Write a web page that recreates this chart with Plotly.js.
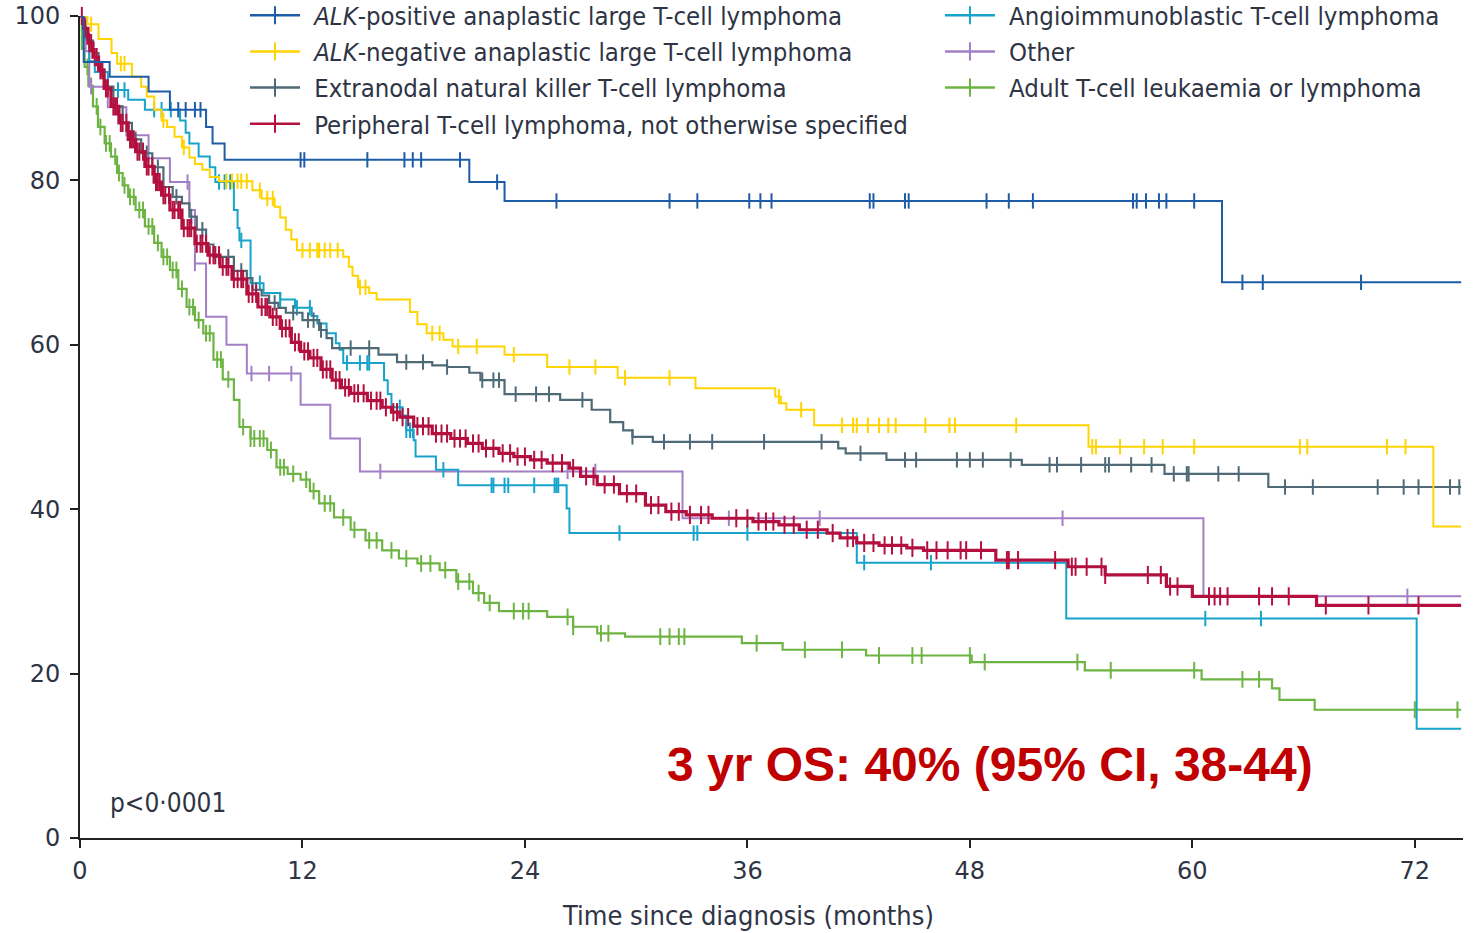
<!DOCTYPE html>
<html><head><meta charset="utf-8">
<script src="https://cdn.plot.ly/plotly-3.0.1.min.js"></script>
<style>html,body{margin:0;padding:0;background:#fff;} #chart{width:1473px;height:933px;}</style>
</head><body><div id="chart"></div>
<script>
// ---- axis ticks ----
const monthTicks = [0, 12, 24, 36, 48, 60, 72];
const pctTicks = [0, 20, 40, 60, 80, 100];

// ---- series names ----
const gap = '\u2009\u2009';
const nameAlkPos = gap + '<i>ALK</i>-positive anaplastic large T-cell lymphoma';
const nameAlkNeg = gap + '<i>ALK</i>-negative anaplastic large T-cell lymphoma';
const nameEnk = gap + 'Extranodal natural killer T-cell lymphoma';
const namePtcl = gap + 'Peripheral T-cell lymphoma, not otherwise specified';
const nameAitl = gap + 'Angioimmunoblastic T-cell lymphoma';
const nameOther = gap + 'Other';
const nameAtll = gap + 'Adult T-cell leukaemia or lymphoma';

// ---- step times (months) / survival (%) / censor times ----
const alkPosT = [0, 0.2, 1.6, 3.7, 4.85, 6.8, 7.15, 7.8, 21.0, 22.9, 61.6, 74.5];
const alkPosS = [100, 94.4, 92.6, 90.8, 88.6, 86.5, 84.5, 82.5, 79.8, 77.5, 67.6, 67.6];
const alkPosC = [5.3, 5.7, 6.2, 6.5, 11.9, 12.1, 15.5, 17.5, 17.95, 18.4, 20.5, 22.5, 25.7, 31.8, 33.3, 36.1, 36.7, 37.3, 42.6, 42.8, 44.5, 44.7, 48.9, 50.1, 51.4, 56.8, 57.0, 57.5, 58.2, 58.6, 60.1, 62.7, 63.8, 69.1];

const alkNegT = [0, 0.4, 1.0, 1.7, 2.0, 2.8, 3.3, 3.6, 4.0, 4.4, 4.7, 5.1, 5.5, 5.9, 6.2, 6.6, 7.0, 7.5, 9.3, 9.8, 10.5, 10.8, 11.1, 11.4, 11.7, 14.2, 14.5, 14.7, 15.0, 15.6, 16.0, 17.8, 18.2, 18.7, 19.6, 20.1, 22.9, 25.2, 29.0, 33.2, 37.5, 37.8, 38.1, 39.6, 54.4, 73.0, 74.5];
const alkNegS = [100, 99.0, 97.2, 95.5, 94.2, 92.6, 91.4, 90.2, 88.6, 87.3, 86.5, 85.3, 84.0, 82.8, 82.0, 81.3, 80.4, 79.9, 78.8, 77.8, 76.8, 75.5, 74.0, 72.8, 71.5, 70.7, 69.5, 68.4, 67.0, 66.3, 65.5, 64.0, 62.5, 61.4, 60.6, 59.8, 58.8, 57.3, 56.0, 54.7, 53.7, 52.9, 52.1, 50.2, 47.6, 37.9, 37.9];
const alkNegC = [0.6, 2.2, 2.4, 4.5, 5.6, 7.9, 8.2, 8.5, 8.7, 9.0, 9.7, 10.1, 10.4, 12.0, 12.4, 12.8, 12.9, 13.2, 13.5, 13.9, 15.1, 15.4, 19.0, 19.4, 20.4, 21.4, 23.4, 26.4, 27.8, 29.4, 31.8, 37.7, 38.9, 41.1, 41.7, 41.9, 42.5, 43.1, 43.6, 44.0, 45.6, 46.9, 47.2, 50.5, 54.6, 54.8, 56.1, 57.4, 58.4, 60.1, 65.8, 66.2, 70.5, 71.5];

const enkT = [0, 0.2, 0.4, 0.7, 1.0, 1.3, 1.8, 2.3, 2.8, 3.3, 3.9, 4.5, 5.0, 5.5, 5.9, 6.3, 6.8, 7.2, 8.3, 9.0, 9.3, 9.8, 10.2, 10.7, 11.1, 12.0, 12.9, 13.3, 13.6, 16.1, 17.1, 19.0, 19.8, 21.0, 21.6, 22.9, 25.9, 27.6, 28.6, 29.3, 29.8, 30.9, 40.9, 41.3, 43.5, 50.8, 58.5, 64.1, 74.5];
const enkS = [100, 98.5, 97, 95.5, 93.5, 91.4, 89, 87, 85, 83.3, 81.6, 79.2, 78.0, 77.2, 75.6, 74, 72.2, 70.7, 69, 68.1, 66.7, 66, 65.1, 64.5, 63.9, 63.0, 61.8, 60.8, 59.6, 58.8, 57.9, 57.5, 57.3, 56.6, 55.7, 54.0, 53.3, 52.1, 50.6, 49.6, 48.8, 48.2, 47.4, 46.8, 46.0, 45.4, 44.3, 42.7, 42.7];
const enkC = [0.5, 1.2, 3.0, 3.6, 4.2, 5.2, 6.0, 6.6, 7.5, 8.0, 8.7, 9.5, 10.5, 11.5, 12.3, 12.6, 13.0, 14.6, 15.6, 17.6, 18.5, 19.8, 21.7, 22.3, 22.6, 23.5, 24.6, 25.3, 27.1, 29.8, 31.5, 32.9, 34.1, 36.9, 40.0, 42.1, 44.5, 45.1, 47.3, 48.0, 48.7, 50.2, 52.3, 52.7, 54.0, 55.3, 55.5, 56.7, 57.8, 59.0, 59.7, 59.8, 61.4, 62.5, 65.0, 66.5, 70.0, 71.4, 72.2, 73.9, 74.4];

const ptclT = [0, 0.2, 0.43, 0.7, 1.0, 1.3, 1.67, 2.1, 2.6, 3.0, 3.5, 4.0, 4.4, 4.85, 5.5, 6.2, 6.9, 7.55, 8.2, 9.0, 9.6, 10.24, 10.8, 11.4, 11.9, 12.4, 13.0, 13.6, 14.1, 14.6, 15.5, 16.3, 16.8, 17.25, 18.0, 19.0, 20.0, 20.9, 21.7, 22.6, 23.4, 24.3, 25.2, 26.4, 27.0, 27.9, 29.1, 30.5, 31.6, 32.7, 34.1, 36.3, 37.7, 38.8, 40.3, 41.0, 41.9, 43.1, 44.6, 45.5, 49.4, 53.3, 55.3, 58.6, 60.0, 66.7, 74.5];
const ptclS = [100, 98.5, 96.7, 95.0, 93.4, 91.2, 89.0, 87.0, 85.0, 83.5, 81.7, 79.8, 78.2, 76.4, 74.2, 72.3, 70.9, 69.5, 68.0, 66.2, 64.6, 63.4, 62.0, 60.3, 59.2, 58.4, 57.0, 55.7, 54.8, 54.1, 53.2, 52.4, 51.8, 51.2, 50.1, 49.2, 48.6, 48.0, 47.4, 46.8, 46.4, 46.0, 45.6, 45.0, 44.0, 43.0, 41.9, 40.5, 39.7, 39.3, 38.9, 38.5, 38.1, 37.5, 37.1, 36.5, 35.9, 35.6, 35.3, 35.0, 33.8, 33.0, 32.0, 30.6, 29.4, 28.3, 28.3];
const ptclC = [0.1, 0.3, 0.5, 0.6, 0.8, 0.9, 1.1, 1.2, 1.4, 1.5, 1.8, 1.9, 2.0, 2.2, 2.3, 2.5, 2.7, 2.8, 2.9, 3.1, 3.2, 3.4, 3.6, 3.7, 3.9, 4.1, 4.2, 4.3, 4.5, 4.6, 4.8, 5.0, 5.1, 5.3, 5.4, 5.6, 5.8, 5.9, 6.0, 6.3, 6.5, 6.6, 6.8, 7.0, 7.2, 7.3, 7.5, 7.7, 7.9, 8.0, 8.3, 8.5, 8.7, 8.8, 9.1, 9.3, 9.5, 9.8, 10.0, 10.1, 10.4, 10.6, 10.9, 11.1, 11.3, 11.6, 11.8, 12.1, 12.3, 12.6, 12.8, 13.1, 13.3, 13.5, 13.8, 14.0, 14.3, 14.5, 14.8, 15.0, 15.3, 15.7, 16.0, 16.2, 16.5, 16.9, 17.1, 17.4, 17.7, 18.2, 18.5, 18.8, 19.2, 19.5, 19.8, 20.2, 20.5, 20.8, 21.2, 21.5, 21.9, 22.3, 22.8, 23.2, 23.6, 24.0, 24.5, 24.9, 25.5, 26.0, 26.6, 27.3, 27.7, 28.3, 28.8, 29.5, 30.0, 30.8, 31.2, 31.9, 32.3, 32.9, 33.5, 33.9, 35.4, 36.0, 36.6, 37.0, 37.4, 38.0, 38.5, 39.2, 39.8, 40.6, 41.4, 41.7, 42.3, 42.8, 43.4, 43.8, 44.3, 44.9, 45.7, 46.2, 46.8, 47.5, 47.8, 48.6, 50.0, 50.1, 50.6, 52.6, 53.5, 53.7, 54.3, 55.1, 55.3, 57.6, 58.3, 58.8, 59.2, 60.9, 61.2, 61.5, 61.9, 63.6, 64.3, 65.2, 67.2, 69.5, 72.2];

const aitlT = [0, 0.2, 0.5, 0.8, 1.5, 2.6, 3.5, 5.4, 5.7, 5.9, 6.4, 7.0, 7.3, 8.3, 8.5, 8.6, 9.2, 9.9, 10.8, 11.6, 12.5, 12.8, 13.3, 13.8, 14.0, 14.2, 16.4, 16.6, 16.8, 17.4, 17.6, 18.0, 18.1, 19.2, 20.4, 26.25, 26.4, 41.9, 53.2, 72.1, 74.5];
const aitlS = [100, 97.3, 94.5, 93.2, 91.0, 89.8, 88.6, 87.3, 85.8, 84.5, 82.9, 81.6, 79.8, 76.4, 74.2, 72.7, 67.5, 66.3, 65.5, 64.5, 63.5, 62.6, 61.4, 60.2, 59.4, 57.8, 55.7, 54.0, 52.4, 51.4, 49.6, 48.4, 46.4, 44.8, 42.9, 40.1, 37.1, 33.5, 26.7, 13.3, 13.3];
const aitlC = [2.05, 2.4, 4.0, 4.4, 4.9, 7.5, 7.8, 8.1, 8.7, 9.7, 10.8, 11.7, 12.4, 14.4, 15.1, 15.5, 15.6, 17.25, 17.6, 17.8, 17.95, 19.6, 22.2, 22.3, 22.9, 23.1, 24.5, 25.6, 25.7, 25.8, 29.1, 33.1, 33.3, 36.0, 42.3, 45.9, 60.7, 63.7];

const otherT = [0, 0.3, 0.5, 1.5, 2.5, 3.7, 4.85, 5.9, 6.2, 6.8, 7.9, 9.0, 11.9, 13.5, 15.1, 32.5, 60.6, 74.5];
const otherS = [100, 95.7, 91.4, 88.9, 85.5, 82.7, 79.8, 76.4, 69.9, 63.4, 60.0, 56.5, 52.7, 48.6, 44.6, 38.9, 29.4, 29.4];
const otherC = [0.6, 1.9, 5.8, 6.2, 9.25, 10.2, 11.4, 16.2, 26.3, 27.8, 35.0, 39.9, 53.0, 71.6];

const atllT = [0, 0.1, 0.25, 0.45, 0.7, 0.97, 1.33, 1.67, 2.0, 2.3, 2.6, 3.0, 3.5, 4.0, 4.4, 4.85, 5.3, 5.75, 6.2, 6.65, 7.2, 7.7, 8.3, 8.6, 9.2, 10.1, 10.6, 11.2, 11.9, 12.4, 12.9, 13.7, 14.6, 15.4, 16.3, 17.2, 18.2, 19.4, 20.3, 21.2, 21.8, 22.6, 25.2, 26.6, 27.9, 29.4, 35.7, 37.9, 42.4, 48.1, 54.2, 60.5, 64.3, 64.7, 66.6, 74.5];
const atllS = [100, 96, 93.8, 91.5, 89.0, 86.5, 84.5, 82.9, 80.9, 79.4, 78.0, 76.4, 74.4, 72.4, 70.7, 69.1, 66.8, 64.6, 63.0, 61.4, 58.2, 55.8, 53.3, 50.0, 48.6, 47.2, 45.1, 44.3, 43.6, 42.2, 40.7, 39.0, 37.5, 36.2, 35.0, 34.0, 33.4, 32.6, 31.2, 29.8, 28.6, 27.6, 26.9, 25.7, 24.9, 24.5, 23.7, 22.9, 22.2, 21.4, 20.4, 19.3, 18.2, 16.8, 15.6, 15.6];
const atllC = [0.4, 0.6, 0.9, 1.1, 1.4, 1.6, 1.9, 2.1, 2.4, 2.7, 2.9, 3.2, 3.4, 3.7, 3.9, 4.2, 4.5, 4.7, 5.0, 5.2, 5.5, 5.9, 6.1, 6.4, 6.8, 7.0, 7.4, 7.6, 8.0, 8.8, 9.2, 9.4, 9.7, 9.9, 10.3, 10.8, 11.0, 11.5, 12.2, 12.6, 13.2, 13.5, 14.2, 14.8, 15.6, 16.0, 16.8, 17.6, 18.4, 18.9, 19.7, 20.4, 21.0, 21.5, 22.1, 23.4, 23.9, 24.2, 26.3, 26.6, 28.1, 28.5, 31.3, 31.8, 32.3, 32.6, 36.5, 39.1, 41.1, 43.1, 44.9, 45.4, 48.0, 48.8, 53.8, 55.6, 60.1, 62.7, 63.6, 72.0, 74.3];

// ---- build KM trace: step line + censor ticks (plot) ----
function kmTrace(name, t, s, c, color, lw, ms) {
  const pts = [];
  t.forEach((x, i) => pts.push({x: x, y: s[i], cen: 0}));
  c.forEach(x => {
    let y = s[0];
    for (let i = 0; i < t.length; i++) { if (t[i] <= x) y = s[i]; }
    pts.push({x: x, y: y, cen: 1});
  });
  pts.sort((a, b) => (a.x - b.x) || (a.cen - b.cen));
  return {
    type: 'scatter', mode: 'lines+markers', name: name, showlegend: false,
    x: pts.map(p => p.x), y: pts.map(p => p.y),
    line: {shape: 'hv', color: color, width: lw},
    marker: {symbol: 'line-ns', size: pts.map(p => p.cen ? ms : 0), opacity: 1, color: color, line: {color: color, width: 2}},
    cliponaxis: false, hoverinfo: 'skip'
  };
}
// legend entry (line with a censor tick) for a series
function legendEntry(name, color, legendId, rank) {
  return {
    type: 'scatter', mode: 'lines+markers', name: name, x: [null], y: [null],
    line: {color: color, width: 2.5},
    marker: {symbol: 'line-ns', size: 13, opacity: 1, color: color, line: {color: color, width: 2}},
    legend: legendId, legendrank: rank, hoverinfo: 'skip'
  };
}

const cAtll = '#6db443', cOther = '#a27fc6', cAitl = '#17a3cb', cEnk = '#4e6a76',
      cPtcl = '#b3103f', cAlkNeg = '#ffd400', cAlkPos = '#1f5ca7';

const data = [
  kmTrace(nameAtll, atllT, atllS, atllC, cAtll, 2.2, 12),
  kmTrace(nameOther, otherT, otherS, otherC, cOther, 2, 11),
  kmTrace(nameAitl, aitlT, aitlS, aitlC, cAitl, 2, 11),
  kmTrace(nameEnk, enkT, enkS, enkC, cEnk, 2.2, 11),
  kmTrace(namePtcl, ptclT, ptclS, ptclC, cPtcl, 3.2, 13),
  kmTrace(nameAlkNeg, alkNegT, alkNegS, alkNegC, cAlkNeg, 2, 11),
  kmTrace(nameAlkPos, alkPosT, alkPosS, alkPosC, cAlkPos, 2, 11),
  legendEntry(nameAlkPos, cAlkPos, 'legend', 1),
  legendEntry(nameAlkNeg, cAlkNeg, 'legend', 2),
  legendEntry(nameEnk, cEnk, 'legend', 3),
  legendEntry(namePtcl, cPtcl, 'legend', 4),
  legendEntry(nameAitl, cAitl, 'legend2', 1),
  legendEntry(nameOther, cOther, 'legend2', 2),
  legendEntry(nameAtll, cAtll, 'legend2', 3)
];

const txtFont = 'DejaVu Sans Condensed, DejaVu Sans, sans-serif';
const tickFont = {family: 'DejaVu Sans, sans-serif', size: 24, color: '#2e3444'};
const legFont = {family: txtFont, size: 25.5, color: '#2e3444'};

const layout = {
  width: 1473, height: 933,
  margin: {l: 80, r: 10, t: 16, b: 95, autoexpand: false},
  paper_bgcolor: '#ffffff', plot_bgcolor: '#ffffff',
  showlegend: true,
  xaxis: {
    range: [0, 74.6], tickvals: monthTicks, ticktext: monthTicks.map(String),
    showline: true, linecolor: '#222222', linewidth: 2, ticks: 'outside', ticklen: 8, tickwidth: 2, tickcolor: '#222222',
    showgrid: false, zeroline: false, tickfont: tickFont, ticklabelstandoff: 2, fixedrange: true, automargin: false
  },
  yaxis: {
    range: [0, 100], tickvals: pctTicks, ticktext: pctTicks.map(String),
    showline: true, linecolor: '#222222', linewidth: 2, ticks: 'outside', ticklen: 8, tickwidth: 2, tickcolor: '#222222',
    showgrid: false, zeroline: false, tickfont: tickFont, ticklabelstandoff: 5, fixedrange: true, automargin: false
  },
  legend: {x: 0.1193, xanchor: 'left', y: 1.029, yanchor: 'top', font: legFont, bgcolor: 'rgba(0,0,0,0)',
           itemsizing: 'trace', itemwidth: 50, tracegroupgap: 0},
  legend2: {x: 0.6218, xanchor: 'left', y: 1.029, yanchor: 'top', font: legFont, bgcolor: 'rgba(0,0,0,0)',
           itemsizing: 'trace', itemwidth: 50, tracegroupgap: 0},
  annotations: [
    {xref: 'paper', yref: 'paper', x: 0.483, y: -0.094, xanchor: 'center', yanchor: 'middle', showarrow: false,
     text: 'Time since diagnosis (months)', font: {family: txtFont, size: 27, color: '#2e3444'}},
    {xref: 'paper', yref: 'paper', x: 0.02, y: 0.043, xanchor: 'left', yanchor: 'middle', showarrow: false,
     text: 'p<0·0001', font: {family: txtFont, size: 26, color: '#2e3444'}},
    {xref: 'paper', yref: 'paper', x: 0.658, y: 0.089, xanchor: 'center', yanchor: 'middle', showarrow: false,
     text: '<b>3 yr OS: 40% (95% CI, 38-44)</b>', font: {family: 'Liberation Sans, Arial, sans-serif', size: 48, color: '#c00000'}}
  ]
};

Plotly.newPlot('chart', data, layout, {displayModeBar: false, staticPlot: true});
</script></body></html>
